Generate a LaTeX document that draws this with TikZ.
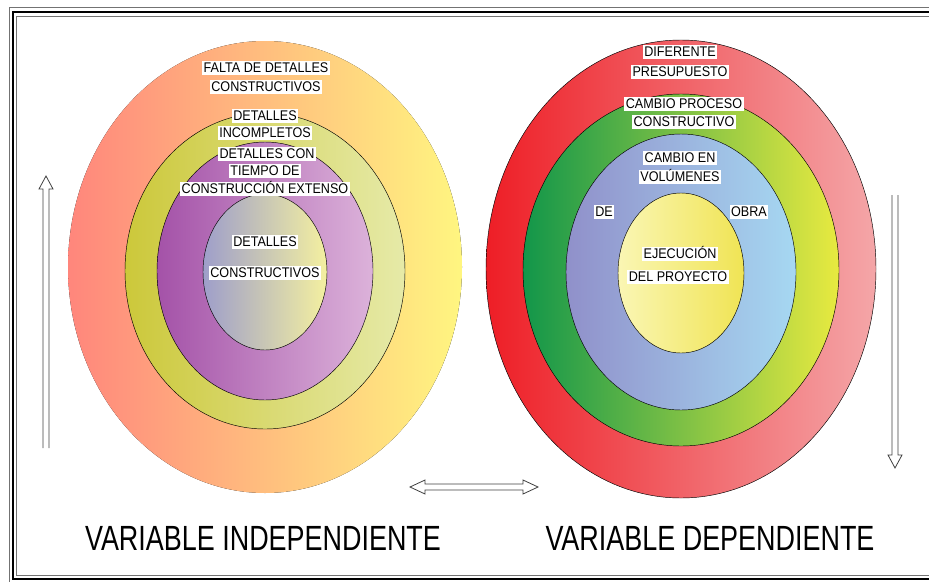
\documentclass[tikz,border=0pt]{standalone}
\usepackage{fontspec}
\setmainfont{Liberation Sans}
\newfontfamily\lblfont[FakeStretch=0.9]{Liberation Sans}
\newfontfamily\varfont[FakeStretch=0.77]{Liberation Sans}
\usetikzlibrary{calc}

\definecolor{salmon}{RGB}{255,134,124}
\definecolor{peach}{RGB}{255,184,128}
\definecolor{lemon}{RGB}{255,246,128}
\definecolor{olive}{RGB}{204,200,58}
\definecolor{paleolive}{RGB}{230,234,168}
\definecolor{plum}{RGB}{164,82,168}
\definecolor{lilac}{RGB}{220,178,218}
\definecolor{slate}{RGB}{158,158,202}
\definecolor{cream}{RGB}{244,240,160}
\definecolor{scarlet}{RGB}{238,30,38}
\definecolor{rose}{RGB}{244,166,168}
\definecolor{leaf}{RGB}{18,150,74}
\definecolor{lime}{RGB}{232,234,64}
\definecolor{lavender}{RGB}{144,144,202}
\definecolor{sky}{RGB}{166,216,242}
\definecolor{paleyellow}{RGB}{250,246,180}
\definecolor{sun}{RGB}{240,228,84}

\tikzset{
  lbl/.style={fill=white, inner xsep=1.5pt, inner ysep=0.5pt, text height=10.5pt, text depth=2.5pt,
    font={\lblfont\fontsize{14}{14}\selectfont}},
  var/.style={font={\varfont\fontsize{35}{35}\selectfont}},
  ring/.style={draw=black, line width=0.45pt},
  hollow/.style={draw=black!75, line width=0.8pt, fill=white}
}

\begin{document}
\begin{tikzpicture}[x=1pt, y=-1pt]
  \useasboundingbox (0,0) rectangle (929,581);
  \clip (0,0) rectangle (929,581);

  % frame
  \draw[black!55, line width=0.8pt] (9,7) rectangle (945,590);
  \draw[black, line width=1.2pt] (13,12) rectangle (940,579);
  \draw[black!55, line width=0.8pt] (16.5,16) rectangle (935,575);

  % independent variable rings
  \coordinate (vi) at (265,267);
  \fill[left color=salmon, middle color=peach, right color=lemon] (vi) ellipse [x radius=197, y radius=226];
  \path[ring, left color=olive, right color=paleolive] ($(vi)+(0,4)$) ellipse [x radius=140, y radius=158];
  \path[ring, left color=plum, right color=lilac] ($(vi)+(0,4)$) ellipse [x radius=108, y radius=129];
  \path[ring, left color=slate, right color=cream] ($(vi)+(0,5)$) ellipse [x radius=62, y radius=78];

  % dependent variable rings
  \coordinate (vd) at (681,269);
  \path[ring, left color=scarlet, right color=rose] (vd) ellipse [x radius=195, y radius=229];
  \path[ring, left color=leaf, middle color=lime!60!leaf, right color=lime] ($(vd)+(0,1)$) ellipse [x radius=158, y radius=176];
  \path[ring, left color=lavender, right color=sky] ($(vd)+(0,3)$) ellipse [x radius=115, y radius=138];
  \path[ring, left color=paleyellow, right color=sun] ($(vd)+(0,4)$) ellipse [x radius=63, y radius=80];

  % labels, left
  \node[lbl] (falta1) at (266,68) {FALTA DE DETALLES};
  \node[lbl] (falta2) at (266,87) {CONSTRUCTIVOS};
  \node[lbl] (incomp1) at (265,116) {DETALLES};
  \node[lbl] (incomp2) at (265,133) {INCOMPLETOS};
  \node[lbl] (tiempo1) at (267,154) {DETALLES CON};
  \node[lbl] (tiempo2) at (265,171) {TIEMPO DE};
  \node[lbl] (tiempo3) at (265,189) {CONSTRUCCIÓN EXTENSO};
  \node[lbl] (constr1) at (265,242) {DETALLES};
  \node[lbl] (constr2) at (265,273) {CONSTRUCTIVOS};

  % labels, right
  \node[lbl] (presu1) at (680,52) {DIFERENTE};
  \node[lbl] (presu2) at (680,72) {PRESUPUESTO};
  \node[lbl] (proceso1) at (684,104) {CAMBIO PROCESO};
  \node[lbl] (proceso2) at (684,122) {CONSTRUCTIVO};
  \node[lbl] (volum1) at (680,158) {CAMBIO EN};
  \node[lbl] (volum2) at (680,177) {VOLÚMENES};
  \node[lbl] (de) at (604,212) {DE};
  \node[lbl] (obra) at (749,212) {OBRA};
  \node[lbl] (ejec1) at (680,254) {EJECUCIÓN};
  \node[lbl] (ejec2) at (678,277) {DEL PROYECTO};

  % hollow arrows
  \coordinate (upB) at (46,448);
  \coordinate (upT) at (46,176);
  \draw[hollow] ($(upB)+(-3,0)$) -- ($(upT)+(-3,13)$) -- ($(upT)+(-7,13)$) -- (upT)
    -- ($(upT)+(7,13)$) -- ($(upT)+(3,13)$) -- ($(upB)+(3,0)$);
  \coordinate (dnT) at (895,195);
  \coordinate (dnB) at (895,468);
  \draw[hollow] ($(dnT)+(-3,0)$) -- ($(dnB)+(-3,-13)$) -- ($(dnB)+(-7,-13)$) -- (dnB)
    -- ($(dnB)+(7,-13)$) -- ($(dnB)+(3,-13)$) -- ($(dnT)+(3,0)$);
  \coordinate (lrL) at (410,487);
  \coordinate (lrR) at (538,487);
  \draw[hollow] (lrL) -- ($(lrL)+(15,-7)$) -- ($(lrL)+(15,-3)$) -- ($(lrR)+(-15,-3)$)
    -- ($(lrR)+(-15,-7)$) -- (lrR) -- ($(lrR)+(-15,7)$) -- ($(lrR)+(-15,3)$)
    -- ($(lrL)+(15,3)$) -- ($(lrL)+(15,7)$) -- cycle;

  % titles
  \node[var] (indep) at (263,538) {VARIABLE INDEPENDIENTE};
  \node[var] (dep) at (710,538) {VARIABLE DEPENDIENTE};
\end{tikzpicture}
\end{document}
